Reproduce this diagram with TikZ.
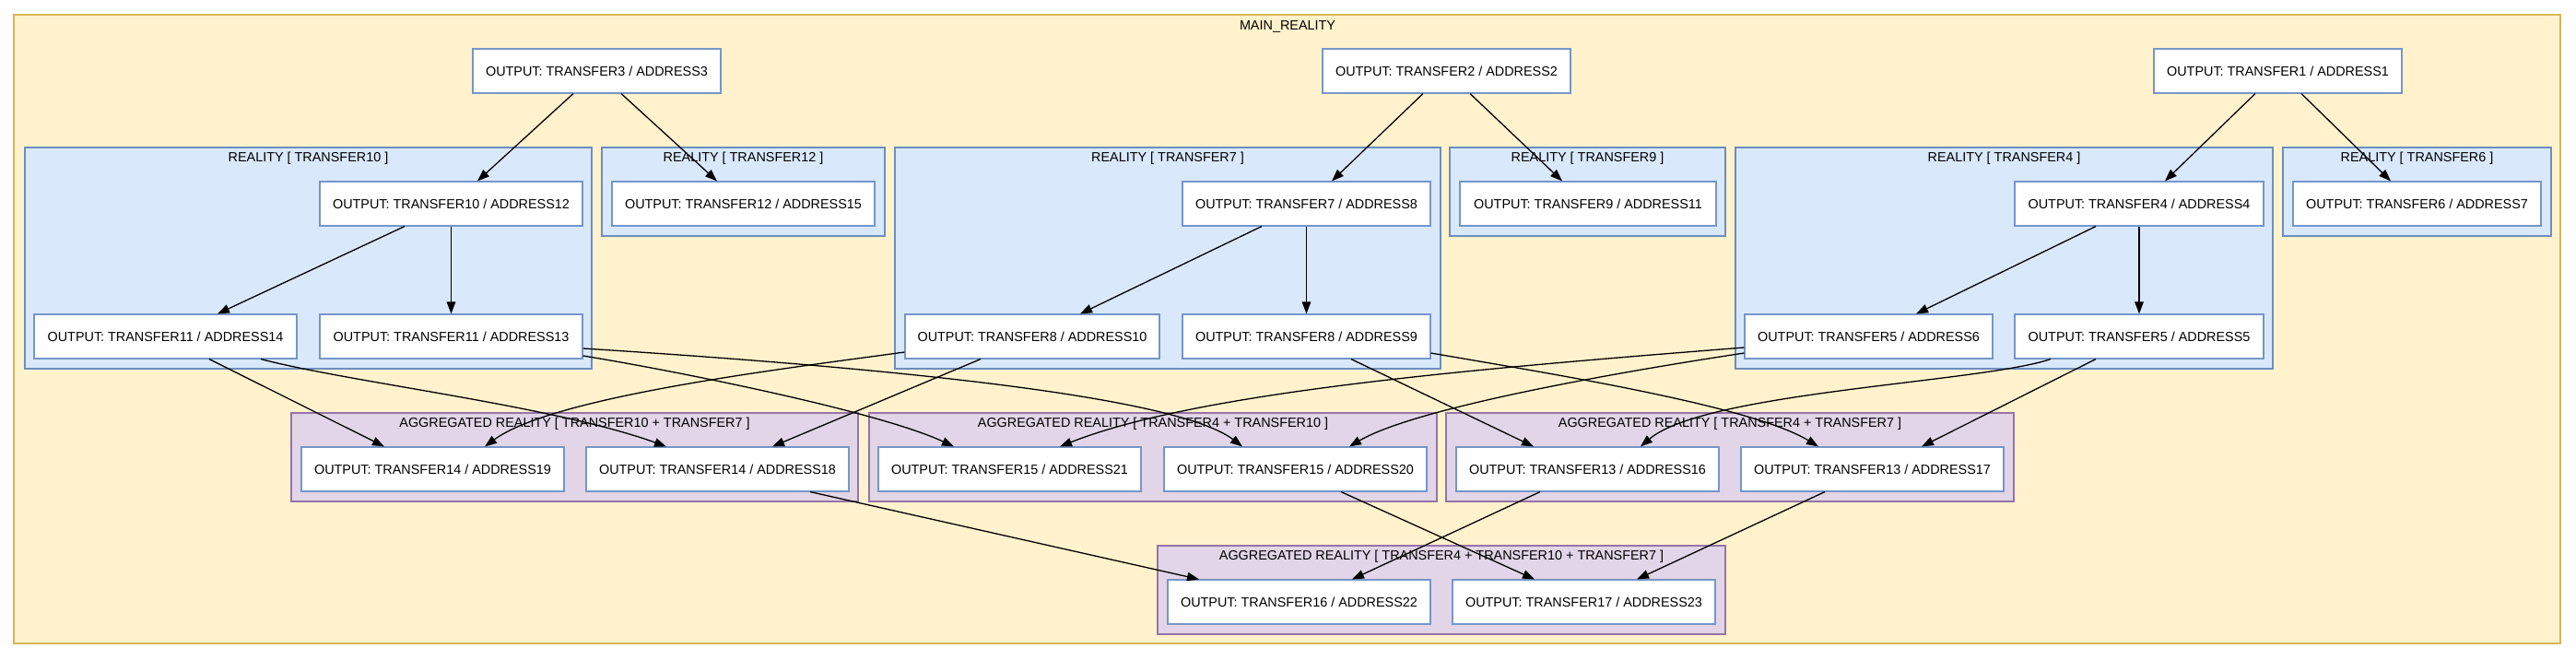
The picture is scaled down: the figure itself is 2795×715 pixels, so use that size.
\documentclass[tikz,border=0pt]{standalone}
\usepackage{fontspec}
\setmainfont{Liberation Sans}
\usetikzlibrary{arrows.meta,calc}
\definecolor{mainfill}{HTML}{FFF2CC}
\definecolor{mainborder}{HTML}{D6B656}
\definecolor{realfill}{HTML}{DAE8FC}
\definecolor{realborder}{HTML}{6C8EBF}
\definecolor{nodeborder}{HTML}{7596C8}
\definecolor{aggfill}{HTML}{E1D5E7}
\definecolor{aggborder}{HTML}{9673A6}
\tikzset{
  txt/.style={font=\fontsize{14.4}{17}\selectfont},
  box/.style={txt, draw=nodeborder, fill=white, line width=1.1pt, minimum height=48pt, inner sep=0pt, anchor=center},
  maincl/.style={draw=mainborder, fill=mainfill, line width=1.5pt},
  realcl/.style={draw=realborder, fill=realfill, line width=1.5pt},
  aggcl/.style={draw=aggborder, fill=aggfill, line width=1.5pt},
  cllabel/.style={txt, inner sep=0pt, anchor=center},
  conn/.style={draw=black, line width=1.3pt, -{Triangle[length=13pt,width=9.5pt]}},
}
\begin{document}
\begin{tikzpicture}[x=1pt,y=-1pt]
\useasboundingbox (0,0) rectangle (2795,715);
% clusters
\path[maincl] (15,16) rectangle (2778,698);
\node[cllabel] (lmain) at (1397,29) {MAIN\_REALITY};
\path[realcl] (27,160) rectangle (642,400);
\node[cllabel] (l10) at (334.5,172) {REALITY [ TRANSFER10 ]};
\path[realcl] (653,160) rectangle (960,256);
\node[cllabel] (l12) at (806.5,172) {REALITY [ TRANSFER12 ]};
\path[realcl] (971,160) rectangle (1563,400);
\node[cllabel] (l7) at (1267,172) {REALITY [ TRANSFER7 ]};
\path[realcl] (1573,160) rectangle (1872,256);
\node[cllabel] (l9) at (1722.5,172) {REALITY [ TRANSFER9 ]};
\path[realcl] (1883,160) rectangle (2466,400);
\node[cllabel] (l4) at (2174.5,172) {REALITY [ TRANSFER4 ]};
\path[realcl] (2477,160) rectangle (2768,256);
\node[cllabel] (l6) at (2622.5,172) {REALITY [ TRANSFER6 ]};
\path[aggcl] (316,448) rectangle (931,544);
\node[cllabel] (la1) at (623.5,460) {AGGREGATED REALITY [ TRANSFER10 + TRANSFER7 ]};
\path[aggcl] (943,448) rectangle (1559,544);
\node[cllabel] (la2) at (1251,460) {AGGREGATED REALITY [ TRANSFER4 + TRANSFER10 ]};
\path[aggcl] (1569,448) rectangle (2185,544);
\node[cllabel] (la3) at (1877,460) {AGGREGATED REALITY [ TRANSFER4 + TRANSFER7 ]};
\path[aggcl] (1256,592) rectangle (1872,688);
\node[cllabel] (la4) at (1564,604) {AGGREGATED REALITY [ TRANSFER4 + TRANSFER10 + TRANSFER7 ]};
% nodes
\node[box, minimum width=269pt] (t3) at (647.5,77) {OUTPUT: TRANSFER3 / ADDRESS3};
\node[box, minimum width=269pt] (t2) at (1569.5,77) {OUTPUT: TRANSFER2 / ADDRESS2};
\node[box, minimum width=269pt] (t1) at (2471.5,77) {OUTPUT: TRANSFER1 / ADDRESS1};
\node[box, minimum width=285pt] (t10a12) at (489.5,221) {OUTPUT: TRANSFER10 / ADDRESS12};
\node[box, minimum width=285pt] (t12a15) at (806.5,221) {OUTPUT: TRANSFER12 / ADDRESS15};
\node[box, minimum width=285pt] (t11a14) at (179.5,365) {OUTPUT: TRANSFER11 / ADDRESS14};
\node[box, minimum width=285pt] (t11a13) at (489.5,365) {OUTPUT: TRANSFER11 / ADDRESS13};
\node[box, minimum width=269pt] (t7a8) at (1417.5,221) {OUTPUT: TRANSFER7 / ADDRESS8};
\node[box, minimum width=278pt] (t9a11) at (1723,221) {OUTPUT: TRANSFER9 / ADDRESS11};
\node[box, minimum width=276pt] (t8a10) at (1120,365) {OUTPUT: TRANSFER8 / ADDRESS10};
\node[box, minimum width=269pt] (t8a9) at (1417.5,365) {OUTPUT: TRANSFER8 / ADDRESS9};
\node[box, minimum width=270pt] (t4a4) at (2321,221) {OUTPUT: TRANSFER4 / ADDRESS4};
\node[box, minimum width=269pt] (t6a7) at (2622.5,221) {OUTPUT: TRANSFER6 / ADDRESS7};
\node[box, minimum width=269pt] (t5a6) at (2027.5,365) {OUTPUT: TRANSFER5 / ADDRESS6};
\node[box, minimum width=270pt] (t5a5) at (2321,365) {OUTPUT: TRANSFER5 / ADDRESS5};
\node[box, minimum width=285pt] (t14a19) at (469.5,509) {OUTPUT: TRANSFER14 / ADDRESS19};
\node[box, minimum width=285pt] (t14a18) at (778.5,509) {OUTPUT: TRANSFER14 / ADDRESS18};
\node[box, minimum width=285pt] (t15a21) at (1095.5,509) {OUTPUT: TRANSFER15 / ADDRESS21};
\node[box, minimum width=285pt] (t15a20) at (1405.5,509) {OUTPUT: TRANSFER15 / ADDRESS20};
\node[box, minimum width=285pt] (t13a16) at (1722.5,509) {OUTPUT: TRANSFER13 / ADDRESS16};
\node[box, minimum width=285pt] (t13a17) at (2031.5,509) {OUTPUT: TRANSFER13 / ADDRESS17};
\node[box, minimum width=285pt] (t16a22) at (1409.5,653) {OUTPUT: TRANSFER16 / ADDRESS22};
\node[box, minimum width=285pt] (t17a23) at (1718.5,653) {OUTPUT: TRANSFER17 / ADDRESS23};
% edges: top
\draw[conn] ($(t3.south)+(-25.5,0)$) -- ($(t10a12.north)+(28.5,0)$);
\draw[conn] ($(t3.south)+(26.5,0)$) -- ($(t12a15.north)+(-28.5,0)$);
\draw[conn] ($(t2.south)+(-25.5,0)$) -- ($(t7a8.north)+(27.5,0)$);
\draw[conn] ($(t2.south)+(25.5,0)$) -- ($(t9a11.north)+(-28,0)$);
\draw[conn] ($(t1.south)+(-24.5,0)$) -- ($(t4a4.north)+(28,0)$);
\draw[conn] ($(t1.south)+(25.5,0)$) -- ($(t6a7.north)+(-28.5,0)$);
% edges: within reality clusters
\draw[conn] ($(t10a12.south)+(-50.5,0)$) -- ($(t11a14.north)+(56.5,0)$);
\draw[conn] (t10a12.south) -- (t11a13.north);
\draw[conn] ($(t7a8.south)+(-48.5,0)$) -- ($(t8a10.north)+(52,0)$);
\draw[conn] (t7a8.south) -- (t8a9.north);
\draw[conn] ($(t4a4.south)+(-47,0)$) -- ($(t5a6.north)+(51.5,0)$);
\draw[conn] (t4a4.south) -- (t5a5.north);
% edges: to aggregated realities
\draw[conn] ($(t11a14.south)+(47.5,0)$) -- ($(t14a19.north)+(-52.5,0)$);
\draw[conn] ($(t11a14.south)+(103.5,0)$) .. controls (380,415) and (600,440) .. ($(t14a18.north)+(-55.5,0)$);
\draw[conn] ($(t11a13.east)+(0,21)$) .. controls (720,400) and (950,445) .. ($(t15a21.north)+(-60.5,0)$);
\draw[conn] ($(t11a13.east)+(0,13)$) .. controls (900,395) and (1270,425) .. ($(t15a20.north)+(-57.5,0)$);
\draw[conn] ($(t8a10.west)+(0,17)$) .. controls (850,400) and (600,430) .. ($(t14a19.north)+(56.5,0)$);
\draw[conn] ($(t8a10.south)+(-56,0)$) -- ($(t14a18.north)+(59.5,0)$);
\draw[conn] ($(t8a9.south)+(48.5,0)$) -- ($(t13a16.north)+(-58.5,0)$);
\draw[conn] ($(t8a9.east)+(0,18)$) .. controls (1680,405) and (1900,440) .. ($(t13a17.north)+(-58.5,0)$);
\draw[conn] ($(t5a6.west)+(0,12)$) .. controls (1600,400) and (1300,425) .. ($(t15a21.north)+(54.5,0)$);
\draw[conn] ($(t5a6.west)+(0,18)$) .. controls (1780,400) and (1540,440) .. ($(t15a20.north)+(58.5,0)$);
\draw[conn] ($(t5a5.south)+(-96,0)$) .. controls (2150,415) and (1850,425) .. ($(t13a16.north)+(57.5,0)$);
\draw[conn] ($(t5a5.south)+(-47,0)$) -- ($(t13a17.north)+(53.5,0)$);
% edges: to final aggregated reality
\draw[conn] ($(t14a18.south)+(100.5,0)$) -- ($(t16a22.north)+(-108.5,0)$);
\draw[conn] ($(t15a20.south)+(49.5,0)$) -- ($(t17a23.north)+(-53.5,0)$);
\draw[conn] ($(t13a16.south)+(-51.5,0)$) -- ($(t16a22.north)+(57.5,0)$);
\draw[conn] ($(t13a17.south)+(-51.5,0)$) -- ($(t17a23.north)+(57.5,0)$);
\end{tikzpicture}
\end{document}
